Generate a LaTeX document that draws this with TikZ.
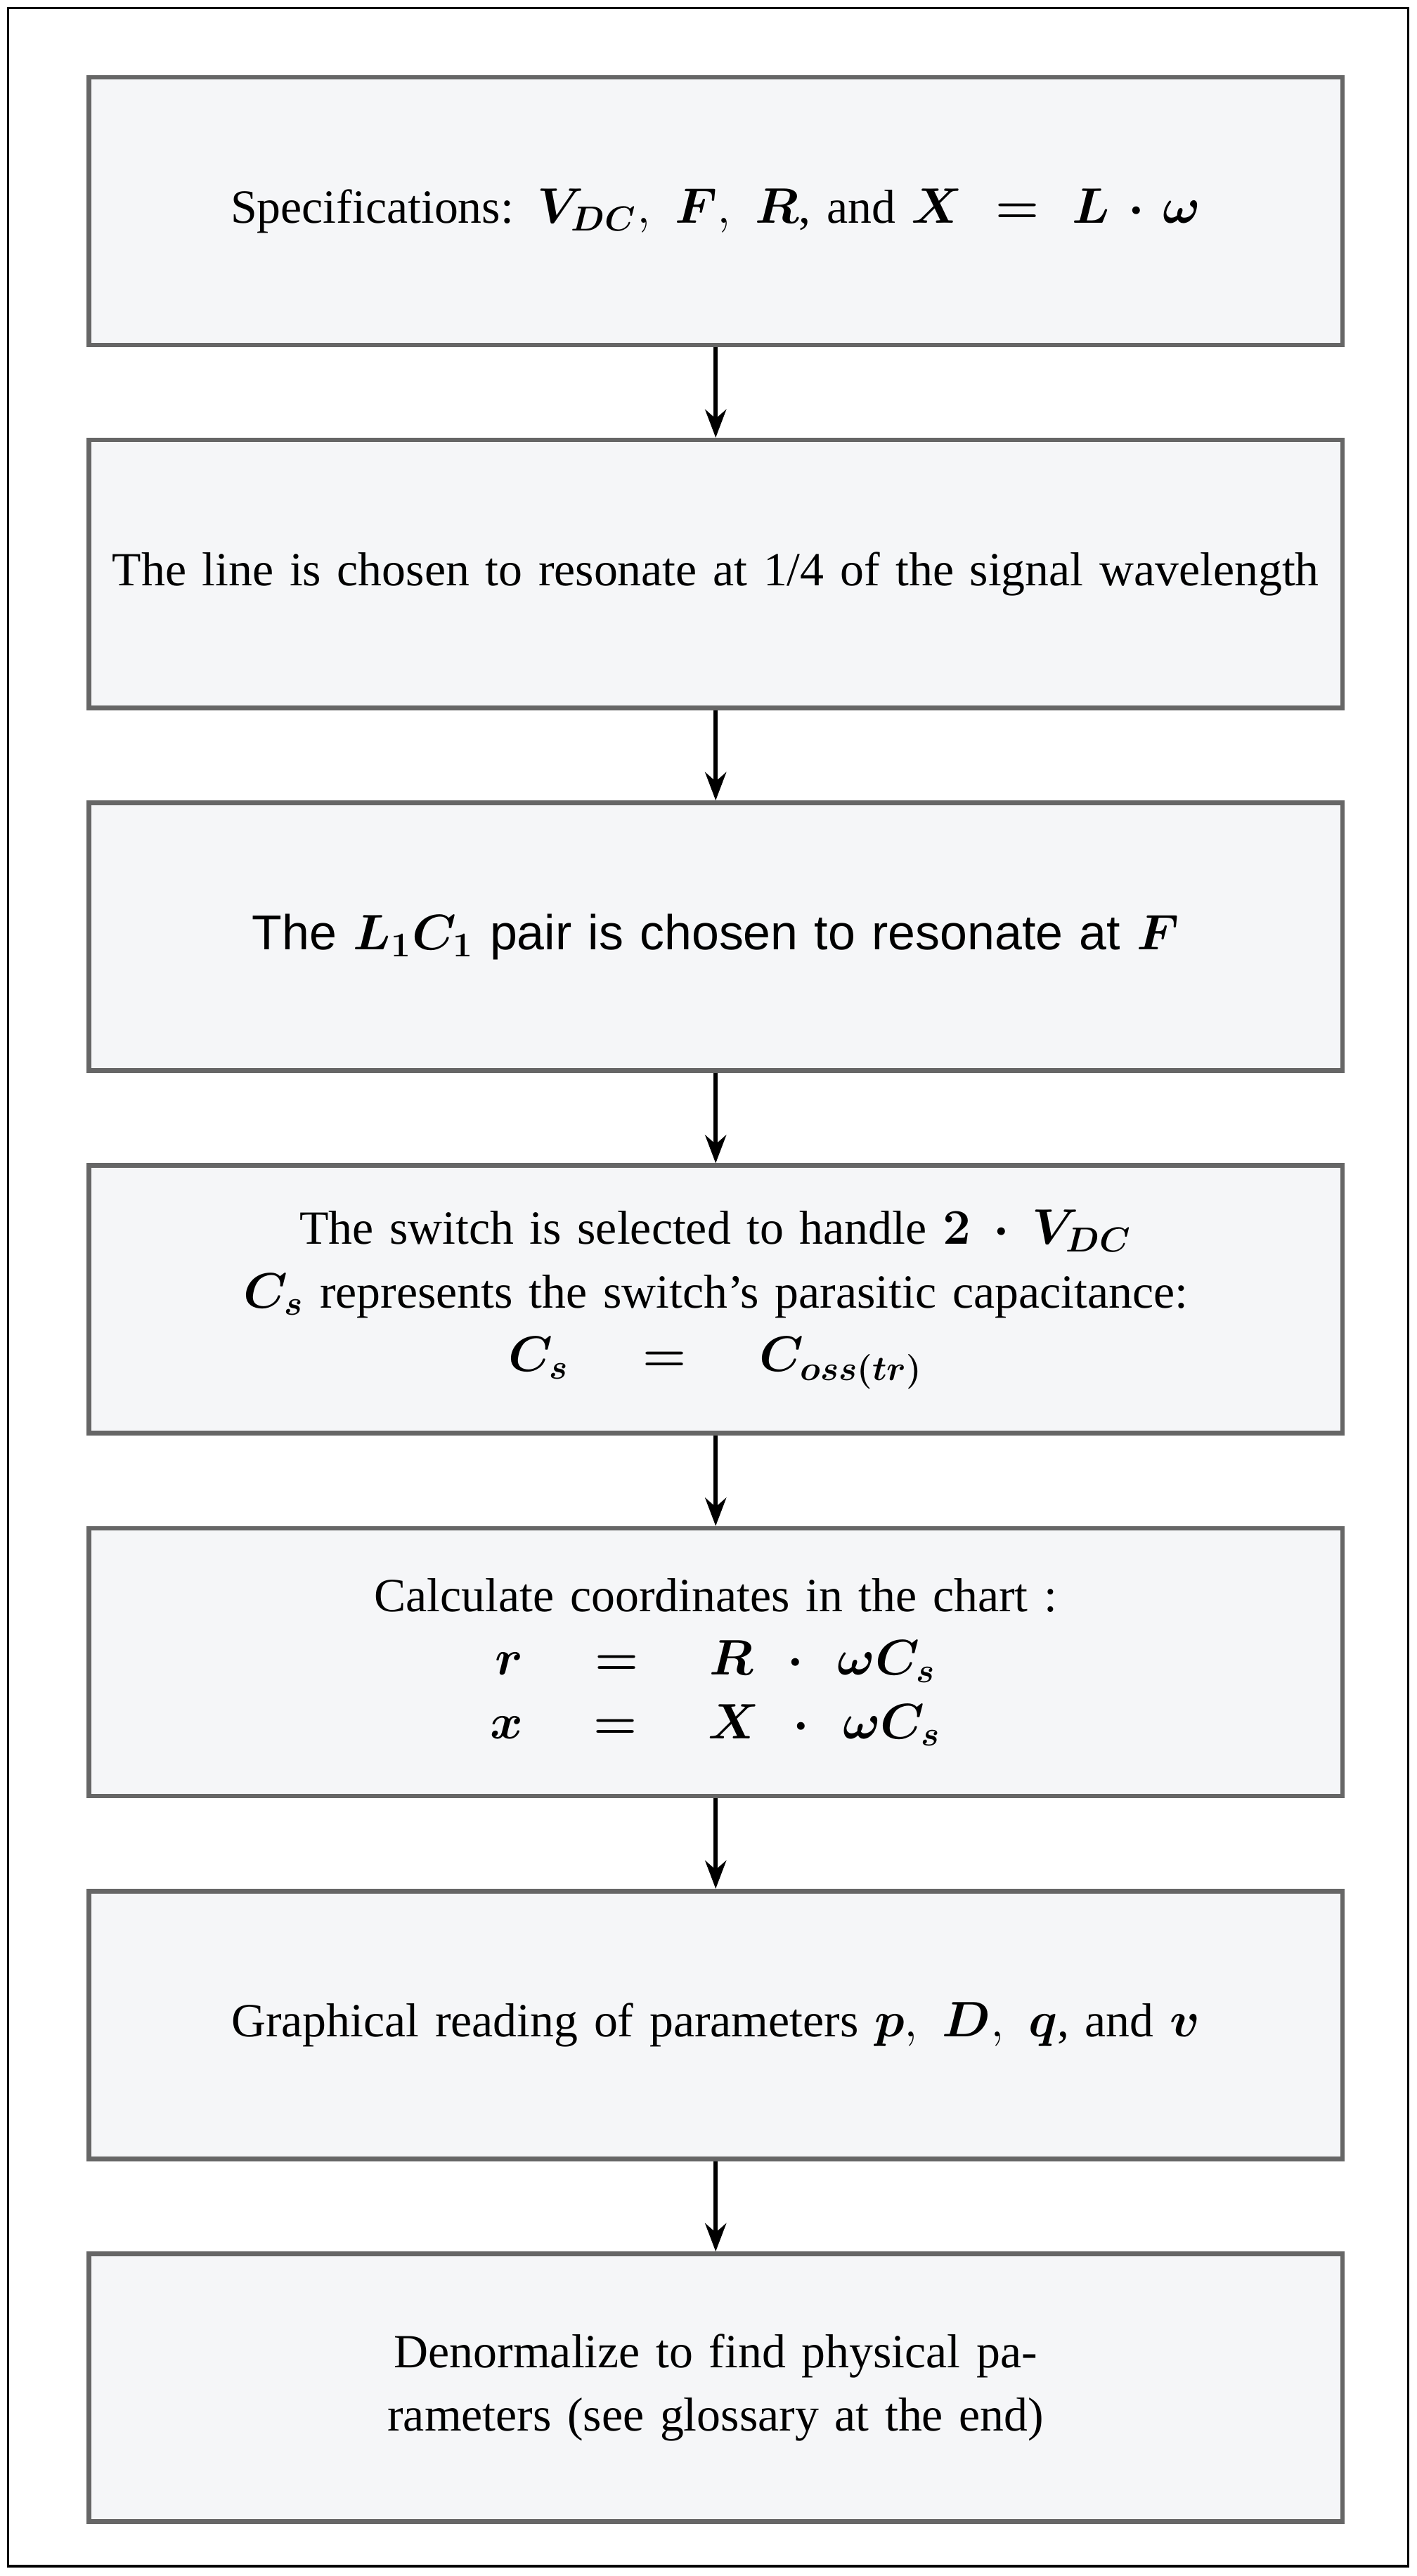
\documentclass[tikz,border=0pt]{standalone}
\usepackage{amsmath,amssymb}
\usepackage{bm}
\usepackage{fontspec}
\setmainfont{Liberation Serif}
\newfontfamily\sansfont{Liberation Sans}
\usetikzlibrary{arrows.meta,positioning}

\definecolor{boxfill}{HTML}{F5F6F8}
\definecolor{boxline}{HTML}{666666}

\begin{document}
\begin{tikzpicture}[>=Stealth, node distance=1.1cm,
    stepbox/.style={draw=boxline, line width=1.6pt, fill=boxfill,
        minimum width=15.26cm, minimum height=3.26cm, text width=15cm,
        align=center, font=\fontsize{16.5}{22}\selectfont},
    flow/.style={->, line width=1.5pt, black}]
    % frame
    \draw[line width=0.8pt] (0.1,-0.1) rectangle (17.14,-31.24);
    \useasboundingbox (0,0) rectangle (17.24,-31.36);

    % steps
    \node[stepbox] (spec) at (8.71,-2.57)
        {Specifications: $\bm{V_{DC}},\ \bm{F},\ \bm{R}$, and $\bm{X = L\cdot\omega}$};
    \node[stepbox, below=of spec] (line)
        {The line is chosen to resonate at 1/4 of the signal wavelength};
    \node[stepbox, below=of line, font={\sansfont\fontsize{17}{22}\selectfont}] (pair)
        {The $\bm{L_1C_1}$ pair is chosen to resonate at $\bm{F}$};
    \node[stepbox, below=of pair] (switch)
        {The switch is selected to handle $\bm{2\cdot V_{DC}}$\\
         $\bm{C_s}$ represents the switch's parasitic capacitance:\\
         $\bm{C_s = C_{oss(tr)}}$};
    \node[stepbox, below=of switch] (coord)
        {Calculate coordinates in the chart :\\
         $\bm{r = R\cdot\omega C_s}$\\
         $\bm{x = X\cdot\omega C_s}$};
    \node[stepbox, below=of coord] (read)
        {Graphical reading of parameters $\bm{p},\ \bm{D},\ \bm{q}$, and $\bm{v}$};
    \node[stepbox, below=of read] (denorm)
        {Denormalize to find physical parameters (see glossary at the end)};

    % arrows
    \draw[flow] (spec) -- (line);
    \draw[flow] (line) -- (pair);
    \draw[flow] (pair) -- (switch);
    \draw[flow] (switch) -- (coord);
    \draw[flow] (coord) -- (read);
    \draw[flow] (read) -- (denorm);
\end{tikzpicture}
\end{document}
